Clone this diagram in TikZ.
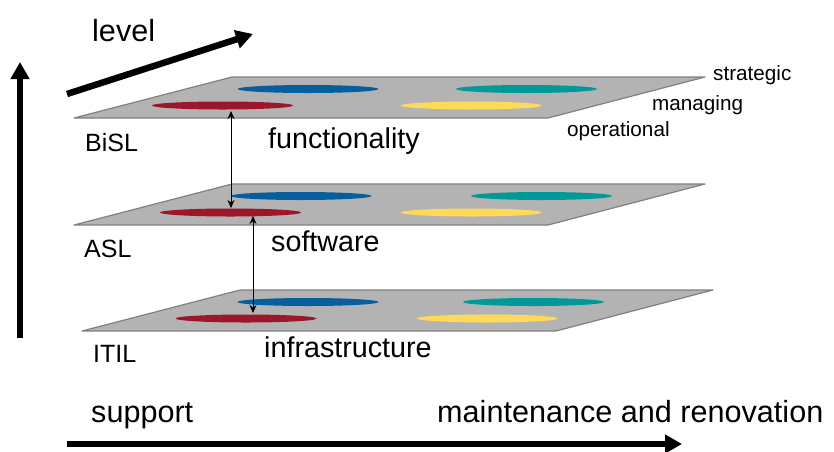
\documentclass[tikz,border=0pt]{standalone}
\usepackage{fontspec}
\setmainfont{Liberation Sans}
\usetikzlibrary{arrows.meta}
\definecolor{planefill}{HTML}{B3B3B3}
\definecolor{planeedge}{HTML}{808080}
\definecolor{ovblue}{HTML}{075E9C}
\definecolor{ovteal}{HTML}{00999A}
\definecolor{ovred}{HTML}{9B1729}
\definecolor{ovyellow}{HTML}{FFD95A}
\tikzset{layer/.style={fill=planefill,draw=planeedge,line width=1.2pt},
  axis/.style={line width=6.5pt,-{Triangle[length=17pt,width=18pt]}},
  link/.style={line width=0.8pt,{Stealth[length=8pt,width=7pt]}-{Stealth[length=8pt,width=7pt]}},
  lbl/.style={anchor=base west,inner sep=0pt}}

\begin{document}
\begin{tikzpicture}[x=1pt,y=-1pt,line join=round]
\useasboundingbox (0,0) rectangle (834,451);
% --- three stacked layers with their four process areas
\foreach \t/\dx/\bx/\rx/\tx/\yx [count=\i] in {77/0/308/222.5/526.5/471.5,184/0/301/230.5/541.5/471.5,290/8/308/246/533.5/487.5}{
  \draw[layer] ({232+\dx},\t) -- ({705+\dx},\t) -- ({548+\dx},{\t+41}) -- ({74+\dx},{\t+41}) -- cycle;
  \fill[ovblue] (\bx,{\t+12}) ellipse [x radius=70.5,y radius=4];
  \fill[ovteal] (\tx,{\t+12}) ellipse [x radius=70.5,y radius=4];
  \fill[ovred] (\rx,{\t+28.5}) ellipse [x radius=70.5,y radius=4];
  \fill[ovyellow] (\yx,{\t+28.5}) ellipse [x radius=70.5,y radius=4];
}
% --- links between the layers
\coordinate (up1) at (231,111); \coordinate (dn1) at (231,208);
\coordinate (up2) at (253,216); \coordinate (dn2) at (253,313);
\draw[link] (up1) -- (dn1);
\draw[link] (up2) -- (dn2);
% --- axes
\coordinate (vlo) at (20,338); \coordinate (vhi) at (20,62);
\coordinate (dlo) at (67,94); \coordinate (dhi) at (253,34);
\coordinate (hlo) at (67,444); \coordinate (hhi) at (682,444);
\draw[axis] (vlo) -- (vhi);
\draw[axis] (dlo) -- (dhi);
\draw[axis] (hlo) -- (hhi);
% --- labels
\node[lbl,font=\fontsize{30.6}{34}\selectfont] (level) at (92,41) {level};
\node[lbl,font=\fontsize{30.6}{34}\selectfont] (support) at (91,422) {support};
\node[lbl,font=\fontsize{30.6}{34}\selectfont] (maint) at (437,422) {maintenance and renovation};
\node[lbl,font=\fontsize{25}{28}\selectfont] (bisl) at (85,151) {BiSL};
\node[lbl,font=\fontsize{25}{28}\selectfont] (asl) at (84,257) {ASL};
\node[lbl,font=\fontsize{25}{28}\selectfont] (itil) at (93,362) {ITIL};
\node[lbl,font=\fontsize{28.7}{32}\selectfont] (func) at (268,148) {functionality};
\node[lbl,font=\fontsize{28.7}{32}\selectfont] (soft) at (271,251) {software};
\node[lbl,font=\fontsize{28.7}{32}\selectfont] (infra) at (264,357) {infrastructure};
\node[lbl,font=\fontsize{20.7}{24}\selectfont] (strat) at (713,80) {strategic};
\node[lbl,font=\fontsize{20.7}{24}\selectfont] (manag) at (652,110) {managing};
\node[lbl,font=\fontsize{20.7}{24}\selectfont] (oper) at (567,136) {operational};
\end{tikzpicture}
\end{document}
